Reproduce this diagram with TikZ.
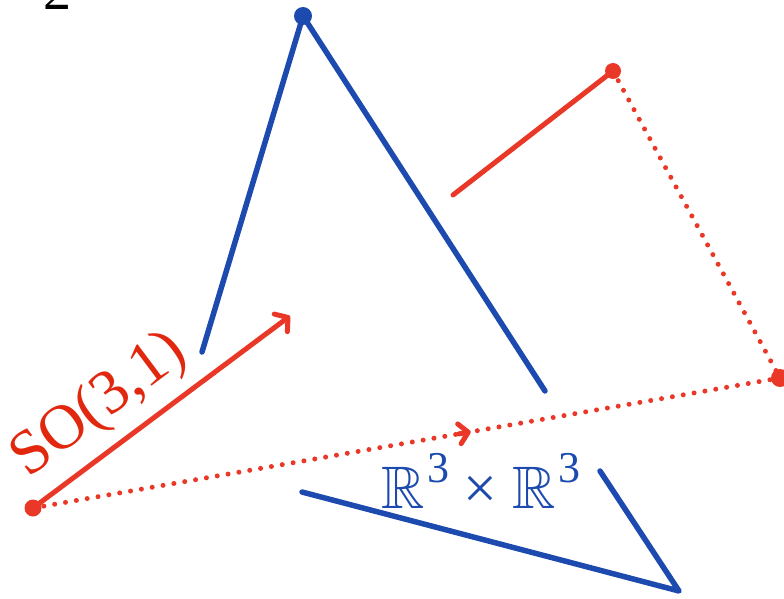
\documentclass[tikz,border=0pt]{standalone}
\usepackage{amssymb}
\usepackage{fontspec}
\setmainfont{Liberation Serif}
\usetikzlibrary{arrows.meta,calc}
\definecolor{rd}{RGB}{234,56,40}
\definecolor{rdt}{RGB}{225,40,15}
\definecolor{bl}{RGB}{28,74,175}
\tikzset{
  bline/.style={draw=bl,line width=5.5pt,line cap=round},
  rline/.style={draw=rd,line width=5pt,line cap=round},
  rdots/.style={draw=rd,line width=5pt,line cap=round,dash pattern=on 0pt off 11pt},
  dotn/.style={circle,inner sep=0pt,minimum size=#1},
  big/.style={font=\fontsize{#1}{#1}\selectfont},
}
\newcommand{\supthree}{\raisebox{26pt}{\fontsize{44}{44}\selectfont 3}}
\begin{document}
\begin{tikzpicture}[x=1pt,y=-1pt]
\useasboundingbox (0,0) rectangle (784,599);
% points
\node[dotn=18pt,fill=bl] (B) at (303,16) {};
\node[dotn=16pt,fill=rd] (P) at (613,71) {};
\node[dotn=18pt,fill=rd] (Q) at (780,378) {};
\node[dotn=17pt,fill=rd] (O) at (33,508) {};
\coordinate (b1) at (202,352);
\coordinate (b2) at (545,391);
\coordinate (r1) at (453,195);
\coordinate (A) at (290,316);
\coordinate (t1) at (302,492);
\coordinate (t2) at (679,591);
\coordinate (t3) at (600,471);
% blue lines
\draw[bline] (B.center) -- (b1);
\draw[bline] (B.center) -- (b2);
\draw[bline,line join=round] (t1) -- (t2) -- (t3);
% red lines
\draw[rline] (r1) -- (P.center);
\draw[rdots] (P.center) -- (Q.center);
\draw[rdots] (O.center) -- (Q.center);
\coordinate (M) at ($(O.center)!0.586!(Q.center)$);
\coordinate (M0) at ($(O.center)!0.57!(Q.center)$);
\draw[rline,-{Straight Barb[length=9pt,width=20pt,line cap=round,line join=round]}] (M0) -- (M);
\draw[rline,-{Straight Barb[length=9pt,width=22pt,line cap=round,line join=round]}] (O.center) -- (A);
% labels
\node[big=63,text=rdt,rotate=36.8,inner sep=0pt] (so) at (100,406) {SO(3,1)};
\node[big=60,text=bl,anchor=base,inner sep=0pt] (rr) at (481,508) {$\mathbb{R}$\kern2pt\supthree\kern14pt×\kern16pt$\mathbb{R}$\kern2pt\supthree};
\node[big=56,anchor=base,inner sep=0pt] (two) at (57,10) {2};
\end{tikzpicture}
\end{document}
